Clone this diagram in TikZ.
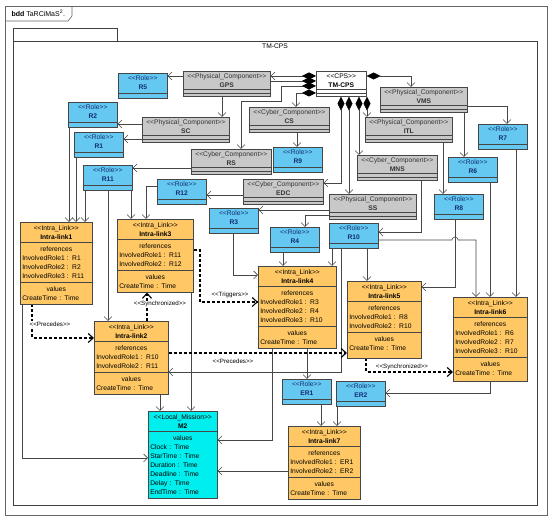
\documentclass[tikz,border=0pt]{standalone}
\usepackage{fontspec}
\setmainfont{Liberation Sans}
\usetikzlibrary{arrows.meta,shapes.multipart,backgrounds}

\definecolor{rolefill}{RGB}{100,200,240}
\definecolor{rolefg}{RGB}{20,45,120}
\definecolor{compfill}{RGB}{200,200,200}
\definecolor{linkfill}{RGB}{255,200,100}
\definecolor{missfill}{RGB}{0,238,238}
\definecolor{edgecol}{RGB}{70,70,70}

\newcommand\blkfont{\fontsize{6.7}{9}\selectfont}
\newcommand\stereo[1]{<{}<#1>{}>}
\newcommand\hd[2]{\rule{0pt}{6pt}\stereo{#1}\\\textbf{#2}\rule[-1.5pt]{0pt}{1.5pt}}
\newcommand\lft[1]{\makebox[\linewidth][l]{#1}}
\newcommand\refs[1]{\rule{0pt}{7pt}references\\#1\rule[-2pt]{0pt}{2pt}}
\newcommand\vals[1][2pt]{\rule{0pt}{7pt}values\\\lft{CreateTime : Time}\rule[-#1]{0pt}{#1}}

\tikzset{
  blk/.style={draw=edgecol, line width=0.6pt, inner xsep=2pt, inner ysep=1.6pt,
    font=\blkfont, align=center, anchor=north west},
  box/.style={blk, execute at end node={\rule[-6.8pt]{0pt}{6.8pt}}},
  cut/.style={edgecol, line width=0.6pt},
  role/.style={box, fill=rolefill, text=rolefg, text width=45pt,
    path picture={\draw[cut] ([yshift=5pt]path picture bounding box.south west)
      -- ([yshift=5pt]path picture bounding box.south east);}},
  gray/.style={box, fill=compfill, text=black!80,
    path picture={\draw[cut] ([yshift=7pt]path picture bounding box.south west)
      -- ([yshift=7pt]path picture bounding box.south east)
      ([yshift=3pt]path picture bounding box.south west)
      -- ([yshift=3pt]path picture bounding box.south east);}},
  phys/.style={gray, text width=83pt},
  cyber/.style={gray, text width=76pt},
  cps/.style={gray, fill=white, text=black, text width=46pt},
  ilink/.style={blk, rectangle split, rectangle split parts=3, fill=linkfill, text width=#1},
  mission/.style={blk, rectangle split, rectangle split parts=2, fill=missfill, text width=65pt},
  assoc/.style={draw=edgecol, line width=0.6pt, -{Straight Barb[length=4pt,width=8pt]}},
  compo/.style={assoc, {Diamond[length=14pt,width=7pt,color=black]}-{Straight Barb[length=4pt,width=8pt]}},
  dep/.style={draw=black, line width=1.1pt, dash pattern=on 3pt off 2pt, -{Straight Barb[length=5pt,width=9pt]}},
  deplbl/.style={font=\fontsize{6.2}{7}\selectfont, fill=white, inner sep=0.5pt}
}

\begin{document}
\begin{tikzpicture}[x=1pt,y=-1pt]
\useasboundingbox (0,0) rectangle (550,521);
\node[anchor=west, font=\fontsize{7}{8}\selectfont] (title) at (8,13.5) {\textbf{bdd} TaRCiMaS\textsuperscript{2}.};
\node[font=\blkfont] (tmlbl) at (275,46.5) {TM-CPS};

% components
\node[cps] (tm) at (316,71) {\hd{CPS}{TM-CPS}};
\node[phys] (gps) at (183,71) {\hd{Physical\_Component}{GPS}};
\node[phys] (sc) at (142,117) {\hd{Physical\_Component}{SC}};
\node[cyber] (rs) at (191,149) {\hd{Cyber\_Component}{RS}};
\node[cyber] (cs) at (249,107) {\hd{Cyber\_Component}{CS}};
\node[cyber] (edc) at (243,179) {\hd{Cyber\_Component}{EDC}};
\node[phys] (vms) at (380,87) {\hd{Physical\_Component}{VMS}};
\node[phys] (itl) at (365,117) {\hd{Physical\_Component}{ITL}};
\node[cyber] (mns) at (357,155) {\hd{Cyber\_Component}{MNS}};
\node[phys] (ss) at (329,194) {\hd{Physical\_Component}{SS}};

% roles
\node[role] (r5) at (118,73) {\hd{Role}{R5}};
\node[role] (r2) at (68,102) {\hd{Role}{R2}};
\node[role] (r1) at (74,132) {\hd{Role}{R1}};
\node[role] (r11) at (83,165) {\hd{Role}{R11}};
\node[role] (r9) at (273,147) {\hd{Role}{R9}};
\node[role] (r12) at (157,179) {\hd{Role}{R12}};
\node[role] (r3) at (209,208) {\hd{Role}{R3}};
\node[role] (r4) at (270,227) {\hd{Role}{R4}};
\node[role] (r10) at (329,223) {\hd{Role}{R10}};
\node[role] (r7) at (478,124) {\hd{Role}{R7}};
\node[role] (r6) at (448,157) {\hd{Role}{R6}};
\node[role] (r8) at (434,194) {\hd{Role}{R8}};
\node[role] (er1) at (282,379) {\hd{Role}{ER1}};
\node[role] (er2) at (336,381) {\hd{Role}{ER2}};

% intra links
\node[ilink=68pt] (il1) at (20,222) {\hd{Intra\_Link}{Intra-link1}
  \nodepart{two}\refs{\lft{InvolvedRole1 : R1}\\\lft{InvolvedRole2 : R2}\\\lft{InvolvedRole3 : R11}}
  \nodepart{three}\vals};
\node[ilink=70pt] (il2) at (94,321) {\hd{Intra\_Link}{Intra-link2}
  \nodepart{two}\refs{\lft{InvolvedRole1 : R10}\\\lft{InvolvedRole2 : R11}}
  \nodepart{three}\vals};
\node[ilink=72pt] (il3) at (117,219) {\hd{Intra\_Link}{Intra-link3}
  \nodepart{two}\refs{\lft{InvolvedRole1 : R11}\\\lft{InvolvedRole2 : R12}}
  \nodepart{three}\vals};
\node[ilink=74pt] (il4) at (258,266) {\hd{Intra\_Link}{Intra-link4}
  \nodepart{two}\refs{\lft{InvolvedRole1 : R3}\\\lft{InvolvedRole2 : R4}\\\lft{InvolvedRole3 : R10}}
  \nodepart{three}\vals};
\node[ilink=70pt] (il5) at (347,281) {\hd{Intra\_Link}{Intra-link5}
  \nodepart{two}\refs{\lft{InvolvedRole1 : R8}\\\lft{InvolvedRole2 : R10}}
  \nodepart{three}\vals[6pt]};
\node[ilink=70pt] (il6) at (453,297) {\hd{Intra\_Link}{Intra-link6}
  \nodepart{two}\refs{\lft{InvolvedRole1 : R6}\\\lft{InvolvedRole2 : R7}\\\lft{InvolvedRole3 : R10}}
  \nodepart{three}\vals[4pt]};
\node[ilink=68pt] (il7) at (288,426) {\hd{Intra\_Link}{Intra-link7}
  \nodepart{two}\refs{\lft{InvolvedRole1 : ER1}\\\lft{InvolvedRole2 : ER2}}
  \nodepart{three}\vals};
\node[mission] (m2) at (148,411) {\hd{Local\_Mission}{M2}
  \nodepart{two}\rule{0pt}{7pt}values\\\lft{Clock : Time}\\\lft{StarTime : Time}\\\lft{Duration : Time}\\
  \lft{Deadline : Time}\\\lft{Delay : Time}\\\lft{EndTime : Time}\rule[-2pt]{0pt}{2pt}};

% dependency labels
\node[deplbl] (lprec1) at (50,324) {\stereo{Precedes}};
\node[deplbl] (lsync1) at (160,304) {\stereo{Synchronized}};
\node[deplbl] (ltrig) at (230,295) {\stereo{Triggers}};
\node[deplbl] (lprec2) at (233,361) {\stereo{Precedes}};
\node[deplbl] (lsync2) at (402,367) {\stereo{Synchronized}};

\begin{scope}[on background layer]
\fill[white] (0,0) rectangle (550,521);
\draw[black!60, line width=0.6pt] (5,6) rectangle (547,515);
\draw[black!60, line width=0.6pt] (5,21) -- (68,21) -- (72,16) -- (72,6);
\draw[black!75, line width=0.8pt] (13,41) rectangle (537,505) (13,41) -- (13,28) -- (117,28) -- (117,41);

% composition
\draw[compo] (tm.west |- 0,76) -- (gps.east |- 0,76);
\draw[compo] (tm.west |- 0,81) -- (222,81) -- (sc.north -| 222,0);
\draw[compo] (tm.west |- 0,86) -- (281,86) -- (281,101) -- (241,101) -- (rs.north -| 241,0);
\draw[compo] (tm.west |- 0,93) -- (296,93) -- (cs.north -| 296,0);
\draw[compo] (tm.east |- 0,76) -- (411,76) -- (vms.north -| 411,0);
\draw[compo] (tm.south -| 341,0) -- (341,183) -- (edc.east |- 0,183);
\draw[compo] (tm.south -| 349,0) -- (ss.north -| 349,0);
\draw[compo] (tm.south -| 359,0) -- (mns.north -| 359,0);
\draw[compo] (tm.south -| 367,0) -- (itl.north -| 367,0);

% associations
\draw[assoc] (gps.west |- 0,76) -- (r5.east |- 0,76);
\draw[assoc] (sc.west |- 0,124) -- (r2.east |- 0,124);
\draw[assoc] (sc.west |- 0,139) -- (r1.east |- 0,139);
\draw[assoc] (rs.west |- 0,168) -- (r11.east |- 0,168);
\draw[assoc] (cs.south -| 297,0) -- (r9.north -| 297,0);
\draw[assoc] (edc.west |- 0,195) -- (r12.east |- 0,195);
\draw[assoc] (vms.east |- 0,106) -- (507,106) -- (r7.north -| 507,0);
\draw[assoc] (vms.south -| 464,0) -- (r6.north -| 464,0);
\draw[assoc] (itl.south -| 443,0) -- (r8.north -| 443,0);
\draw[assoc] (mns.south -| 421,0) -- (421,232) -- (r10.east |- 0,232);
\draw[assoc] (ss.west |- 0,215) -- (305,215) -- (r4.north -| 305,0);
\draw[assoc] (ss.west |- 0,210) -- (r3.east |- 0,210);
\draw[assoc] (r2.south -| 69,0) -- (il1.north -| 69,0);
\draw[assoc] (r1.south -| 76,0) -- (il1.north -| 76,0);
\draw[assoc] (r11.south -| 85,0) -- (il1.north -| 85,0);
\draw[assoc] (r11.south -| 108,0) -- (il2.north -| 108,0);
\draw[assoc] (r11.south -| 131,0) -- (il3.north -| 131,0);
\draw[assoc] (r12.west |- 0,186) -- (146,186) -- (il3.north -| 146,0);
\draw[assoc] (r3.south -| 233,0) -- (233,275) -- (il4.west |- 0,275);
\draw[assoc] (r4.south -| 283,0) -- (il4.north -| 283,0);
\draw[assoc] (r10.south -| 332,0) -- (il4.north -| 332,0);
\draw[assoc] (r10.south -| 367,0) -- (il5.north -| 367,0);
\draw[assoc] (r10.east |- 0,240) -- (452,240) arc[start angle=180,end angle=360,radius=3] -- (476,240) -- (il6.north -| 476,0);
\draw[assoc] (r8.south -| 455,0) -- (455,287) -- (il5.east |- 0,287);
\draw[assoc] (r6.south -| 490,0) -- (il6.north -| 490,0);
\draw[assoc] (r7.south -| 516,0) -- (il6.north -| 516,0);
\draw[assoc] (r10.south -| 341,0) -- (341,372) -- (il2.east |- 0,372);
\draw[assoc] (il4.south -| 272,0) -- (272,440) -- (m2.east |- 0,440);
\draw[assoc] (il4.south -| 307,0) -- (er1.north -| 307,0);
\draw[assoc] (il6.south -| 490,0) -- (490,393) -- (er2.east |- 0,393);
\draw[assoc] (er1.south -| 321,0) -- (il7.north -| 321,0);
\draw[assoc] (er2.south -| 337,0) -- (il7.north -| 337,0);
\draw[assoc] (il7.west |- 0,471) -- (m2.east |- 0,471);
\draw[assoc] (il1.south -| 22,0) -- (22,458) -- (m2.west |- 0,458);
\draw[assoc] (il2.south -| 160,0) -- (m2.north -| 160,0);
\draw[assoc] (il3.south -| 191,0) -- (m2.north -| 191,0);

% dependencies
\draw[dep] (il1.south -| 32,0) -- (32,338) -- (il2.west |- 0,338);
\draw[dep] (il2.north -| 147,0) -- (il3.south -| 147,0);
\draw[dep] (il3.east |- 0,250) -- (200,250) -- (200,302) -- (il4.west |- 0,302);
\draw[dep] (il2.east |- 0,353) -- (il5.west |- 0,353);
\draw[dep] (il5.south -| 366,0) -- (366,372) -- (il6.west |- 0,372);
\end{scope}
\end{tikzpicture}
\end{document}
